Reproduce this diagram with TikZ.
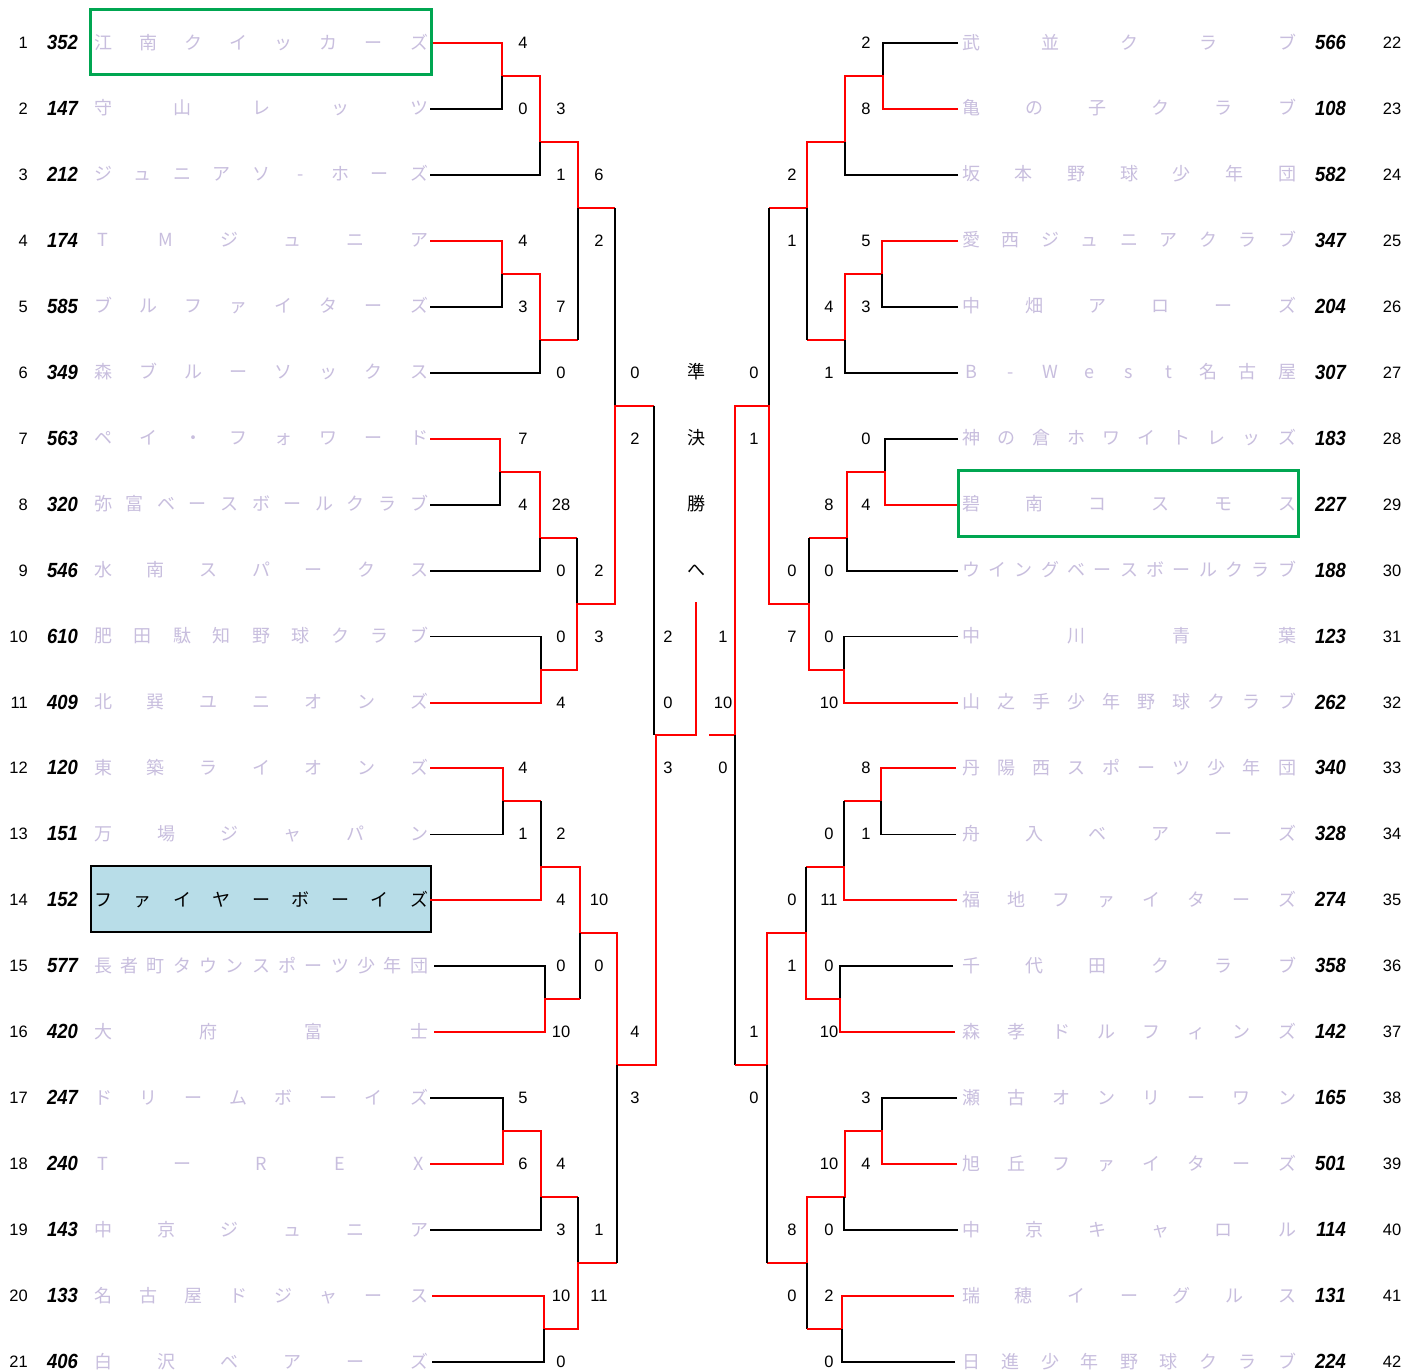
\documentclass[tikz,border=0pt]{standalone}
\usepackage{fontspec}
\newfontfamily\jpf{Noto Sans CJK JP}
\newfontfamily\numf{Liberation Sans}
\newfontfamily\seedf[FakeStretch=0.9]{Liberation Sans}
\definecolor{namecol}{RGB}{200,190,222}
\definecolor{wred}{RGB}{255,0,0}
\definecolor{boxgreen}{RGB}{0,166,81}
\definecolor{boxblue}{RGB}{184,221,232}
\tikzset{
  win/.style={draw=wred, line width=2pt},
  lose/.style={draw=black, line width=1.8pt},
  thinlose/.style={draw=black, line width=1.2pt},
  namech/.style={anchor=base, inner sep=0pt, yshift=-6pt, font=\jpf\fontsize{18}{18}\selectfont, text=namecol},
  finalch/.style={anchor=base, inner sep=0pt, yshift=-6pt, font=\jpf\fontsize{18}{18}\selectfont, text=black},
  rownum/.style={anchor=base, inner sep=0pt, yshift=-5.5pt, font=\numf\fontsize{16.5}{16.5}\selectfont},
  seed/.style={anchor=base east, inner sep=0pt, yshift=-6.5pt, font=\seedf\bfseries\itshape\fontsize{20.5}{20.5}\selectfont},
  score/.style={anchor=base, inner sep=0pt, yshift=-5.5pt, font=\numf\fontsize{16.5}{16.5}\selectfont},
}
\newcommand\TeamName[6][]{%
  \gdef\tncount{0}%
  \foreach \ch in {#6}{\xdef\tncount{\the\numexpr\tncount+1\relax}}%
  \foreach \ch [count=\k] in {#6}{%
    \node[namech,#1] (#2-\k) at ({#4+(\k-1)*(#5-#4)/(\tncount-1)},#3) {\ch};
  }%
}
\begin{document}
\begin{tikzpicture}[x=1pt,y=-1pt]
\useasboundingbox (0,0) rectangle (1407,1371);
\fill[white] (0,0) rectangle (1407,1371);
% highlighted team box (behind text)
\node[draw=black, fill=boxblue, line width=2pt, minimum width=340pt, minimum height=66pt, inner sep=0pt] (hlblue) at (261,899) {};

\begin{scope}[yshift=22.95pt, y=-65.95pt]
% ---------------- LEFT BRACKET ----------------
% group A
\draw[win] (430,1) -- (502,1) -- (502,1.5) -- (540,1.5) -- (540,2.5) -- (578,2.5) -- (578,3.5) -- (615,3.5);
\draw[lose] (430,2) -- (502,2) -- (502,1.5);
\draw[lose] (430,3) -- (540,3) -- (540,2.5);
\draw[win] (430,4) -- (502,4) -- (502,4.5) -- (540,4.5) -- (540,5.5) -- (578,5.5);
\draw[lose] (430,5) -- (502,5) -- (502,4.5);
\draw[lose] (430,6) -- (540,6) -- (540,5.5);
\draw[lose] (578,5.5) -- (578,3.5);
\draw[lose] (615,3.5) -- (615,6.5);
% group B
\draw[win] (430,7) -- (500,7) -- (500,7.5) -- (540,7.5) -- (540,8.5) -- (577,8.5);
\draw[lose] (430,8) -- (500,8) -- (500,7.5);
\draw[lose] (430,9) -- (540,9) -- (540,8.5);
\draw[lose] (577,8.5) -- (577,9.5);
\draw[lose] (430,10) -- (541,10) -- (541,10.5);
\draw[win] (430,11) -- (541,11) -- (541,10.5) -- (577,10.5) -- (577,9.5) -- (615,9.5) -- (615,6.5) -- (654,6.5);
\draw[thinlose] (654,6.5) -- (654,11.5);
% group C
\draw[win] (430,12) -- (503,12) -- (503,12.5) -- (541,12.5);
\draw[lose] (430,13) -- (503,13) -- (503,12.5);
\draw[lose] (541,12.5) -- (541,13.5);
\draw[win] (430,14) -- (541,14) -- (541,13.5) -- (580,13.5) -- (580,14.5) -- (617,14.5) -- (617,16.5) -- (656,16.5) -- (656,11.5) -- (696,11.5) -- (696,9.48);
\draw[lose] (580,14.5) -- (580,15.5);
\draw[lose] (434,15) -- (545,15) -- (545,15.5);
\draw[win] (434,16) -- (545,16) -- (545,15.5) -- (580,15.5);
% group D
\draw[lose] (430,17) -- (503,17) -- (503,17.5);
\draw[win] (430,18) -- (503,18) -- (503,17.5) -- (541,17.5) -- (541,18.5) -- (578,18.5);
\draw[lose] (430,19) -- (541,19) -- (541,18.5);
\draw[lose] (578,18.5) -- (578,19.5);
\draw[win] (432,20) -- (544,20) -- (544,20.5) -- (578,20.5) -- (578,19.5) -- (617,19.5);
\draw[lose] (432,21) -- (544,21) -- (544,20.5);
\draw[thinlose] (617,19.5) -- (617,16.5);

% ---------------- RIGHT BRACKET ----------------
% group E
\draw[lose] (958,1) -- (883,1) -- (883,1.5);
\draw[win] (958,2) -- (883,2) -- (883,1.5) -- (845,1.5) -- (845,2.5) -- (807,2.5) -- (807,3.5) -- (769,3.5);
\draw[lose] (958,3) -- (845,3) -- (845,2.5);
\draw[win] (958,4) -- (882,4) -- (882,4.5) -- (845,4.5) -- (845,5.5) -- (807,5.5);
\draw[lose] (958,5) -- (882,5) -- (882,4.5);
\draw[lose] (958,6) -- (845,6) -- (845,5.5);
\draw[lose] (807,5.5) -- (807,3.5);
\draw[lose] (769,3.5) -- (769,6.5);
% group F
\draw[lose] (958,7) -- (885,7) -- (885,7.5);
\draw[win] (958,8) -- (885,8) -- (885,7.5) -- (847,7.5) -- (847,8.5) -- (809,8.5);
\draw[lose] (958,9) -- (847,9) -- (847,8.5);
\draw[lose] (809,8.5) -- (809,9.5);
\draw[lose] (958,10) -- (844,10) -- (844,10.5);
\draw[win] (958,11) -- (844,11) -- (844,10.5) -- (809,10.5) -- (809,9.5) -- (769,9.5) -- (769,6.5) -- (735,6.5) -- (735,11.5) -- (709,11.5);
\draw[thinlose] (735,11.5) -- (735,16.5);
% group G
\draw[win] (956,12) -- (881,12) -- (881,12.5) -- (844,12.5);
\draw[lose] (956,13) -- (881,13) -- (881,12.5);
\draw[lose] (844,12.5) -- (844,13.5);
\draw[win] (957,14) -- (844,14) -- (844,13.5) -- (806,13.5);
\draw[lose] (806,13.5) -- (806,14.5);
\draw[lose] (953,15) -- (840,15) -- (840,15.5);
\draw[win] (955,16) -- (840,16) -- (840,15.5) -- (806,15.5) -- (806,14.5) -- (767,14.5) -- (767,16.5) -- (735,16.5);
% group H
\draw[lose] (957,17) -- (882,17) -- (882,17.5);
\draw[win] (957,18) -- (882,18) -- (882,17.5) -- (845,17.5) -- (845,18.5) -- (807,18.5) -- (807,19.5) -- (767,19.5);
\draw[lose] (958,19) -- (844,19) -- (844,18.5);
\draw[lose] (807,19.5) -- (807,20.5);
\draw[win] (954,20) -- (842,20) -- (842,20.5) -- (807,20.5);
\draw[lose] (955,21) -- (842,21) -- (842,20.5);
\draw[lose] (767,19.5) -- (767,16.5);

% ---------------- ROW NUMBERS AND SEEDS ----------------
\foreach \i in {1,...,21} {\node[rownum, anchor=base east] (rl\i) at (28,\i) {\i};}
\foreach \k in {1,...,21} {\pgfmathtruncatemacro\j{\k+21}\node[rownum] (rr\k) at (1392,\k) {\j};}
\foreach \s [count=\i] in {352,147,212,174,585,349,563,320,546,610,409,120,151,152,577,420,247,240,143,133,406}
  {\node[seed] (sl\i) at (78,\i) {\s};}
\foreach \s [count=\i] in {566,108,582,347,204,307,183,227,188,123,262,340,328,274,358,142,165,501,114,131,224}
  {\node[seed] (sr\i) at (1346,\i) {\s};}

% ---------------- TEAM NAMES ----------------
\TeamName{nl1}{1}{103}{419}{江,南,ク,イ,ッ,カ,ー,ズ}
\TeamName{nl2}{2}{103}{419}{守,山,レ,ッ,ツ}
\TeamName{nl3}{3}{103}{419}{ジ,ュ,ニ,ア,ソ,-,ホ,ー,ズ}
\TeamName{nl4}{4}{103}{419}{T,M,ジ,ュ,ニ,ア}
\TeamName{nl5}{5}{103}{419}{ブ,ル,フ,ァ,イ,タ,ー,ズ}
\TeamName{nl6}{6}{103}{419}{森,ブ,ル,ー,ソ,ッ,ク,ス}
\TeamName{nl7}{7}{103}{419}{ペ,イ,・,フ,ォ,ワ,ー,ド}
\TeamName{nl8}{8}{103}{419}{弥,富,ベ,ー,ス,ボ,ー,ル,ク,ラ,ブ}
\TeamName{nl9}{9}{103}{419}{水,南,ス,パ,ー,ク,ス}
\TeamName{nl10}{10}{103}{419}{肥,田,駄,知,野,球,ク,ラ,ブ}
\TeamName{nl11}{11}{103}{419}{北,巽,ユ,ニ,オ,ン,ズ}
\TeamName{nl12}{12}{103}{419}{東,築,ラ,イ,オ,ン,ズ}
\TeamName{nl13}{13}{103}{419}{万,場,ジ,ャ,パ,ン}
\TeamName[text=black]{nl14}{14}{103}{419}{フ,ァ,イ,ヤ,ー,ボ,ー,イ,ズ}
\TeamName{nl15}{15}{103}{419}{長,者,町,タ,ウ,ン,ス,ポ,ー,ツ,少,年,団}
\TeamName{nl16}{16}{103}{419}{大,府,富,士}
\TeamName{nl17}{17}{103}{419}{ド,リ,ー,ム,ボ,ー,イ,ズ}
\TeamName{nl18}{18}{103}{419}{T,ー,R,E,X}
\TeamName{nl19}{19}{103}{419}{中,京,ジ,ュ,ニ,ア}
\TeamName{nl20}{20}{103}{419}{名,古,屋,ド,ジ,ャ,ー,ス}
\TeamName{nl21}{21}{103}{419}{白,沢,ベ,ア,ー,ズ}

\TeamName{nr1}{1}{971}{1287}{武,並,ク,ラ,ブ}
\TeamName{nr2}{2}{971}{1287}{亀,の,子,ク,ラ,ブ}
\TeamName{nr3}{3}{971}{1287}{坂,本,野,球,少,年,団}
\TeamName{nr4}{4}{971}{1287}{愛,西,ジ,ュ,ニ,ア,ク,ラ,ブ}
\TeamName{nr5}{5}{971}{1287}{中,畑,ア,ロ,ー,ズ}
\TeamName{nr6}{6}{971}{1287}{B,-,W,e,s,t,名,古,屋}
\TeamName{nr7}{7}{971}{1287}{神,の,倉,ホ,ワ,イ,ト,レ,ッ,ズ}
\TeamName{nr8}{8}{971}{1287}{碧,南,コ,ス,モ,ス}
\TeamName{nr9}{9}{971}{1287}{ウ,イ,ン,グ,ベ,ー,ス,ボ,ー,ル,ク,ラ,ブ}
\TeamName{nr10}{10}{971}{1287}{中,川,青,葉}
\TeamName{nr11}{11}{971}{1287}{山,之,手,少,年,野,球,ク,ラ,ブ}
\TeamName{nr12}{12}{971}{1287}{丹,陽,西,ス,ポ,ー,ツ,少,年,団}
\TeamName{nr13}{13}{971}{1287}{舟,入,ベ,ア,ー,ズ}
\TeamName{nr14}{14}{971}{1287}{福,地,フ,ァ,イ,タ,ー,ズ}
\TeamName{nr15}{15}{971}{1287}{千,代,田,ク,ラ,ブ}
\TeamName{nr16}{16}{971}{1287}{森,孝,ド,ル,フ,ィ,ン,ズ}
\TeamName{nr17}{17}{971}{1287}{瀬,古,オ,ン,リ,ー,ワ,ン}
\TeamName{nr18}{18}{971}{1287}{旭,丘,フ,ァ,イ,タ,ー,ズ}
\TeamName{nr19}{19}{971}{1287}{中,京,キ,ャ,ロ,ル}
\TeamName{nr20}{20}{971}{1287}{瑞,穂,イ,ー,グ,ル,ス}
\TeamName{nr21}{21}{971}{1287}{日,進,少,年,野,球,ク,ラ,ブ}

% ---------------- SCORES ----------------
\foreach \r/\s in {1/4,2/0,4/4,5/3,7/7,8/4,12/4,13/1,17/5,18/6}
  {\node[score] (sa\r) at (523,\r) {\s};}
\foreach \r/\s in {2/3,3/1,5/7,6/0,8/28,9/0,10/0,11/4,13/2,14/4,15/0,16/10,18/4,19/3,20/10,21/0}
  {\node[score] (sb\r) at (561,\r) {\s};}
\foreach \r/\s in {3/6,4/2,9/2,10/3,14/10,15/0,19/1,20/11}
  {\node[score] (sc\r) at (599,\r) {\s};}
\foreach \r/\s in {6/0,7/2,16/4,17/3}
  {\node[score] (sd\r) at (635,\r) {\s};}
\foreach \r/\s in {10/2,11/0,12/3}
  {\node[score] (se\r) at (668,\r) {\s};}
\foreach \r/\s in {10/1,11/10,12/0}
  {\node[score] (sf\r) at (723,\r) {\s};}
\foreach \r/\s in {6/0,7/1,16/1,17/0}
  {\node[score] (sg\r) at (754,\r) {\s};}
\foreach \r/\s in {3/2,4/1,9/0,10/7,14/0,15/1,19/8,20/0}
  {\node[score] (sh\r) at (792,\r) {\s};}
\foreach \r/\s in {5/4,6/1,8/8,9/0,10/0,11/10,13/0,14/11,15/0,16/10,18/10,19/0,20/2,21/0}
  {\node[score] (si\r) at (829,\r) {\s};}
\foreach \r/\s in {1/2,2/8,4/5,5/3,7/0,8/4,12/8,13/1,17/3,18/4}
  {\node[score] (sj\r) at (866,\r) {\s};}

% ---------------- CENTER ----------------
\foreach \c [count=\i from 6] in {準,決,勝,へ}
  {\node[finalch] (fc\i) at (696,\i) {\c};}
\end{scope}

% highlight frames
\node[draw=boxgreen, line width=3pt, minimum width=341pt, minimum height=65pt, inner sep=0pt] (hlgreenL) at (260.5,41.5) {};
\node[draw=boxgreen, line width=3pt, minimum width=340pt, minimum height=66pt, inner sep=0pt] (hlgreenR) at (1128,503) {};
\end{tikzpicture}
\end{document}
